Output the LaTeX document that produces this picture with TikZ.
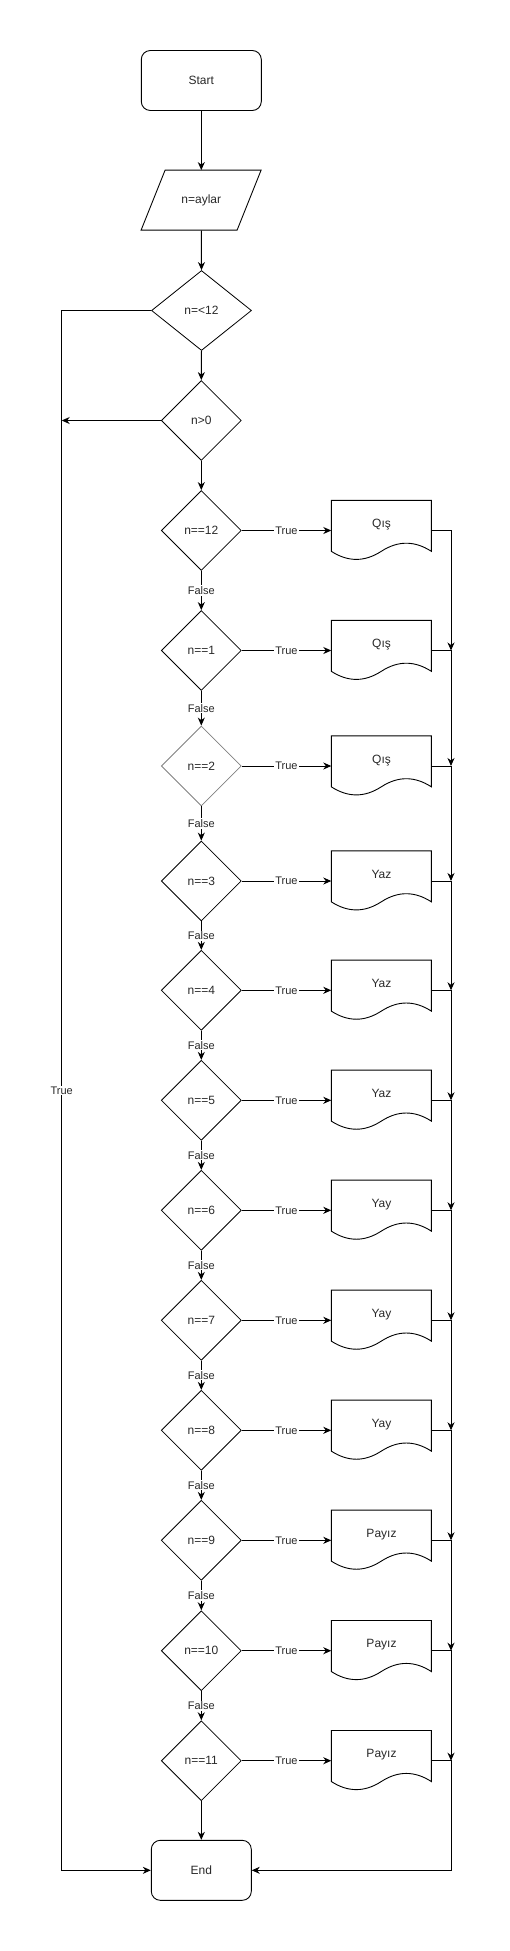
\documentclass[tikz,border=0pt]{standalone}
\usepackage{fontspec}
\setmainfont{Liberation Sans}
\usetikzlibrary{shapes.geometric,arrows.meta}
\definecolor{txt}{RGB}{40,40,40}
\definecolor{hl}{RGB}{128,128,128}
\tikzset{
  base/.style={font=\fontsize{12}{14}\selectfont, text=txt, inner sep=0pt},
  term/.style={base, draw, rounded corners=9pt, minimum width=120pt, minimum height=60pt, line width=0.9pt},
  dec/.style={base, draw, diamond, minimum width=80pt, minimum height=80pt, line width=0.8pt},
  docnode/.style={base, minimum width=100pt, minimum height=60pt, text height=8pt, text depth=14pt},
  outline/.style={line width=0.9pt},
  lab/.style={font=\fontsize{11}{13}\selectfont, fill=white, inner sep=1pt, text=txt},
  conn/.style={line width=1pt, -{Stealth[length=8pt,width=7pt,inset=2.5pt]}},
  plainline/.style={line width=1pt},
}
\begin{document}
\begin{tikzpicture}[x=1pt,y=-1pt]
\useasboundingbox (0,0) rectangle (510,1951);
\coordinate (L) at (61.7,0);
\coordinate (R) at (451,0);
\node[term] (start) at (201.3,80.5) {Start};
\node[base, minimum width=120pt, minimum height=60pt] (inp) at (201.3,200.3) {n=aylar};
\begin{scope}[shift={(inp.north west)}]
  \draw[outline] (24,0) -- (120,0) -- (96,60) -- (0,60) -- cycle;
\end{scope}
\node[dec, minimum width=100pt] (d0) at (201.5,310.5) {n=<12};
\node[dec] (d00) at (201.3,420.5) {n>0};
\node[term, minimum width=100pt] (end) at (201.3,1870.3) {End};

\foreach \i/\yy/\cond/\res/\col in {
  1/530.5/n==12/Qış/black,
  2/650.5/n==1/Qış/black,
  3/766/n==2/Qış/hl,
  4/881/n==3/Yaz/black,
  5/990.3/n==4/Yaz/black,
  6/1100.3/n==5/Yaz/black,
  7/1210.3/n==6/Yay/black,
  8/1320.3/n==7/Yay/black,
  9/1430.3/n==8/Yay/black,
  10/1540.3/n==9/Payız/black,
  11/1650.7/n==10/Payız/black,
  12/1760.7/n==11/Payız/black}{
  \node[dec, draw=\col] (c\i) at (201.3,\yy) {\cond};
  \node[docnode] (doc\i) at (381.5,\yy) {\res};
  \begin{scope}[shift={(doc\i.north west)}]
    \draw[outline] (0,0) -- (100,0) -- (100,51)
      .. controls (83.33,40.2) and (66.67,40.2) .. (50,51)
      .. controls (33.33,61.8) and (16.67,61.8) .. (0,51) -- cycle;
  \end{scope}
  \draw[conn] (c\i.east) -- (doc\i.west) node[midway, lab] {True};
}

\draw[conn] (start.south) -- (inp.north);
\draw[conn] (inp.south) -- (d0.north);
\draw[conn] (d0.south) -- (d00.north);
\draw[conn] (d00.south) -- (c1.north);
\draw[conn] (d00.west) -- (d00.west -| L);
\draw[conn] (d0.west) -- (d0.west -| L) -- (end.west -| L) node[midway, lab, fill=white] {True} -- (end.west);

\foreach \i [evaluate=\i as \j using int(\i+1)] in {1,...,11}{
  \draw[conn] (c\i.south) -- (c\j.north) node[midway, lab] {False};
  \draw[conn] (doc\i.east) -- (doc\i.east -| R) -- (c\j.east -| R);
}
\draw[conn] (c12.south) -- (end.north);
\draw[conn] (doc12.east) -- (doc12.east -| R) -- (end.east -| R) -- (end.east);
\end{tikzpicture}
\end{document}
